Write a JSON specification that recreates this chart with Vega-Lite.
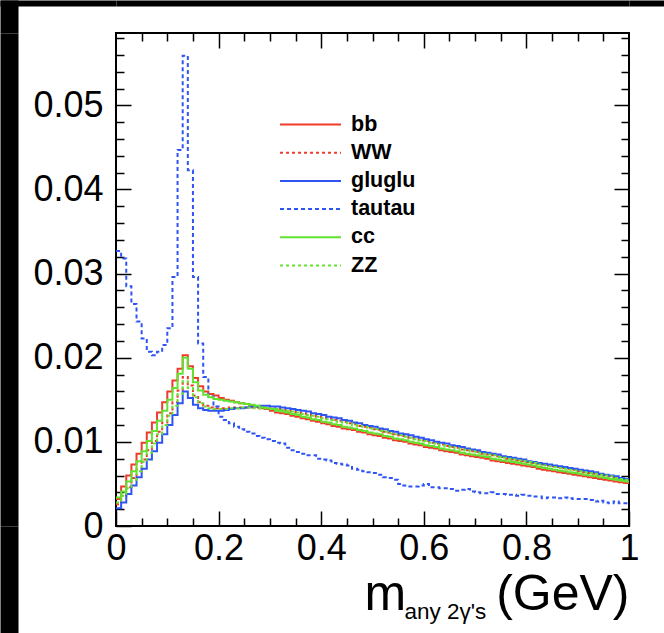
{
"$schema":"https://vega.github.io/schema/vega-lite/v6.json",
"width":513,"height":493,
"autosize":{"type":"none"},
"padding":{"left":116,"top":33,"right":35,"bottom":107},
"background":"white",
"config":{
"view":{"stroke":"black","strokeWidth":2},
"font":"Liberation Sans",
"axis":{"domain":false,"grid":false,"labels":false,"ticks":true,"tickColor":"black","tickWidth":1.5,"labelColor":"black","labelFont":"Liberation Sans","labelOverlap":false,"labelFlush":false,"titleColor":"black","titleFont":"Liberation Sans","titleFontWeight":"normal","titlePadding":0},
"legend":{"orient":"none","legendX":183,"legendY":80,"symbolType":"M-3,0H3","symbolSize":413,"symbolStrokeWidth":2,"labelFont":"Liberation Sans","labelFontSize":21.5,"labelFontWeight":"bold","labelColor":"black","labelOffset":29,"rowPadding":6.2,"padding":0}
},
"data":{"values":[
{"s":"bb","x":0.00,"y":0.0032},{"s":"bb","x":0.01,"y":0.0047},{"s":"bb","x":0.02,"y":0.0060},{"s":"bb","x":0.03,"y":0.0073},{"s":"bb","x":0.04,"y":0.0086},{"s":"bb","x":0.05,"y":0.0099},{"s":"bb","x":0.06,"y":0.0111},{"s":"bb","x":0.07,"y":0.0123},{"s":"bb","x":0.08,"y":0.0135},{"s":"bb","x":0.09,"y":0.0147},
{"s":"bb","x":0.10,"y":0.0160},{"s":"bb","x":0.11,"y":0.0173},{"s":"bb","x":0.12,"y":0.0187},{"s":"bb","x":0.13,"y":0.0203},{"s":"bb","x":0.14,"y":0.0190},{"s":"bb","x":0.15,"y":0.0176},{"s":"bb","x":0.16,"y":0.0166},{"s":"bb","x":0.17,"y":0.0160},{"s":"bb","x":0.18,"y":0.0157},{"s":"bb","x":0.19,"y":0.0155},
{"s":"bb","x":0.20,"y":0.0152},{"s":"bb","x":0.21,"y":0.0150},{"s":"bb","x":0.22,"y":0.0149},{"s":"bb","x":0.23,"y":0.0147},{"s":"bb","x":0.24,"y":0.0146},{"s":"bb","x":0.25,"y":0.0145},{"s":"bb","x":0.26,"y":0.0143},{"s":"bb","x":0.27,"y":0.0142},{"s":"bb","x":0.28,"y":0.0140},{"s":"bb","x":0.29,"y":0.0139},
{"s":"bb","x":0.30,"y":0.0137},{"s":"bb","x":0.31,"y":0.0135},{"s":"bb","x":0.32,"y":0.0134},{"s":"bb","x":0.33,"y":0.0133},{"s":"bb","x":0.34,"y":0.0131},{"s":"bb","x":0.35,"y":0.0130},{"s":"bb","x":0.36,"y":0.0128},{"s":"bb","x":0.37,"y":0.0127},{"s":"bb","x":0.38,"y":0.0125},{"s":"bb","x":0.39,"y":0.0124},
{"s":"bb","x":0.40,"y":0.0122},{"s":"bb","x":0.41,"y":0.0121},{"s":"bb","x":0.42,"y":0.0119},{"s":"bb","x":0.43,"y":0.0118},{"s":"bb","x":0.44,"y":0.0116},{"s":"bb","x":0.45,"y":0.0115},{"s":"bb","x":0.46,"y":0.0114},{"s":"bb","x":0.47,"y":0.0112},{"s":"bb","x":0.48,"y":0.0111},{"s":"bb","x":0.49,"y":0.0109},
{"s":"bb","x":0.50,"y":0.0108},{"s":"bb","x":0.51,"y":0.0107},{"s":"bb","x":0.52,"y":0.0105},{"s":"bb","x":0.53,"y":0.0104},{"s":"bb","x":0.54,"y":0.0102},{"s":"bb","x":0.55,"y":0.0101},{"s":"bb","x":0.56,"y":0.0100},{"s":"bb","x":0.57,"y":0.0098},{"s":"bb","x":0.58,"y":0.0097},{"s":"bb","x":0.59,"y":0.0096},
{"s":"bb","x":0.60,"y":0.0094},{"s":"bb","x":0.61,"y":0.0093},{"s":"bb","x":0.62,"y":0.0092},{"s":"bb","x":0.63,"y":0.0090},{"s":"bb","x":0.64,"y":0.0089},{"s":"bb","x":0.65,"y":0.0088},{"s":"bb","x":0.66,"y":0.0087},{"s":"bb","x":0.67,"y":0.0085},{"s":"bb","x":0.68,"y":0.0084},{"s":"bb","x":0.69,"y":0.0083},
{"s":"bb","x":0.70,"y":0.0082},{"s":"bb","x":0.71,"y":0.0081},{"s":"bb","x":0.72,"y":0.0080},{"s":"bb","x":0.73,"y":0.0078},{"s":"bb","x":0.74,"y":0.0077},{"s":"bb","x":0.75,"y":0.0076},{"s":"bb","x":0.76,"y":0.0075},{"s":"bb","x":0.77,"y":0.0074},{"s":"bb","x":0.78,"y":0.0073},{"s":"bb","x":0.79,"y":0.0072},
{"s":"bb","x":0.80,"y":0.0071},{"s":"bb","x":0.81,"y":0.0070},{"s":"bb","x":0.82,"y":0.0068},{"s":"bb","x":0.83,"y":0.0067},{"s":"bb","x":0.84,"y":0.0066},{"s":"bb","x":0.85,"y":0.0065},{"s":"bb","x":0.86,"y":0.0064},{"s":"bb","x":0.87,"y":0.0063},{"s":"bb","x":0.88,"y":0.0062},{"s":"bb","x":0.89,"y":0.0061},
{"s":"bb","x":0.90,"y":0.0060},{"s":"bb","x":0.91,"y":0.0059},{"s":"bb","x":0.92,"y":0.0058},{"s":"bb","x":0.93,"y":0.0057},{"s":"bb","x":0.94,"y":0.0056},{"s":"bb","x":0.95,"y":0.0055},{"s":"bb","x":0.96,"y":0.0054},{"s":"bb","x":0.97,"y":0.0053},{"s":"bb","x":0.98,"y":0.0052},{"s":"bb","x":0.99,"y":0.0051},{"s":"bb","x":1.00,"y":0.0051},

{"s":"WW","x":0.00,"y":0.0026},{"s":"WW","x":0.01,"y":0.0036},{"s":"WW","x":0.02,"y":0.0046},{"s":"WW","x":0.03,"y":0.0057},{"s":"WW","x":0.04,"y":0.0068},{"s":"WW","x":0.05,"y":0.0079},{"s":"WW","x":0.06,"y":0.0090},{"s":"WW","x":0.07,"y":0.0101},{"s":"WW","x":0.08,"y":0.0112},{"s":"WW","x":0.09,"y":0.0123},
{"s":"WW","x":0.10,"y":0.0134},{"s":"WW","x":0.11,"y":0.0147},{"s":"WW","x":0.12,"y":0.0161},{"s":"WW","x":0.13,"y":0.0177},{"s":"WW","x":0.14,"y":0.0167},{"s":"WW","x":0.15,"y":0.0155},{"s":"WW","x":0.16,"y":0.0147},{"s":"WW","x":0.17,"y":0.0143},{"s":"WW","x":0.18,"y":0.0141},{"s":"WW","x":0.19,"y":0.0140},
{"s":"WW","x":0.20,"y":0.0140},{"s":"WW","x":0.21,"y":0.0140},{"s":"WW","x":0.22,"y":0.0141},{"s":"WW","x":0.23,"y":0.0141},{"s":"WW","x":0.24,"y":0.0141},{"s":"WW","x":0.25,"y":0.0141},{"s":"WW","x":0.26,"y":0.0141},{"s":"WW","x":0.27,"y":0.0141},{"s":"WW","x":0.28,"y":0.0141},{"s":"WW","x":0.29,"y":0.0140},
{"s":"WW","x":0.30,"y":0.0140},{"s":"WW","x":0.31,"y":0.0139},{"s":"WW","x":0.32,"y":0.0138},{"s":"WW","x":0.33,"y":0.0137},{"s":"WW","x":0.34,"y":0.0136},{"s":"WW","x":0.35,"y":0.0135},{"s":"WW","x":0.36,"y":0.0134},{"s":"WW","x":0.37,"y":0.0133},{"s":"WW","x":0.38,"y":0.0131},{"s":"WW","x":0.39,"y":0.0130},
{"s":"WW","x":0.40,"y":0.0129},{"s":"WW","x":0.41,"y":0.0128},{"s":"WW","x":0.42,"y":0.0126},{"s":"WW","x":0.43,"y":0.0125},{"s":"WW","x":0.44,"y":0.0124},{"s":"WW","x":0.45,"y":0.0122},{"s":"WW","x":0.46,"y":0.0121},{"s":"WW","x":0.47,"y":0.0119},{"s":"WW","x":0.48,"y":0.0118},{"s":"WW","x":0.49,"y":0.0117},
{"s":"WW","x":0.50,"y":0.0115},{"s":"WW","x":0.51,"y":0.0114},{"s":"WW","x":0.52,"y":0.0112},{"s":"WW","x":0.53,"y":0.0111},{"s":"WW","x":0.54,"y":0.0109},{"s":"WW","x":0.55,"y":0.0108},{"s":"WW","x":0.56,"y":0.0107},{"s":"WW","x":0.57,"y":0.0105},{"s":"WW","x":0.58,"y":0.0104},{"s":"WW","x":0.59,"y":0.0102},
{"s":"WW","x":0.60,"y":0.0101},{"s":"WW","x":0.61,"y":0.0099},{"s":"WW","x":0.62,"y":0.0098},{"s":"WW","x":0.63,"y":0.0097},{"s":"WW","x":0.64,"y":0.0095},{"s":"WW","x":0.65,"y":0.0094},{"s":"WW","x":0.66,"y":0.0093},{"s":"WW","x":0.67,"y":0.0091},{"s":"WW","x":0.68,"y":0.0090},{"s":"WW","x":0.69,"y":0.0089},
{"s":"WW","x":0.70,"y":0.0088},{"s":"WW","x":0.71,"y":0.0086},{"s":"WW","x":0.72,"y":0.0085},{"s":"WW","x":0.73,"y":0.0084},{"s":"WW","x":0.74,"y":0.0083},{"s":"WW","x":0.75,"y":0.0082},{"s":"WW","x":0.76,"y":0.0080},{"s":"WW","x":0.77,"y":0.0079},{"s":"WW","x":0.78,"y":0.0078},{"s":"WW","x":0.79,"y":0.0077},
{"s":"WW","x":0.80,"y":0.0076},{"s":"WW","x":0.81,"y":0.0075},{"s":"WW","x":0.82,"y":0.0074},{"s":"WW","x":0.83,"y":0.0073},{"s":"WW","x":0.84,"y":0.0072},{"s":"WW","x":0.85,"y":0.0071},{"s":"WW","x":0.86,"y":0.0070},{"s":"WW","x":0.87,"y":0.0069},{"s":"WW","x":0.88,"y":0.0068},{"s":"WW","x":0.89,"y":0.0067},
{"s":"WW","x":0.90,"y":0.0065},{"s":"WW","x":0.91,"y":0.0064},{"s":"WW","x":0.92,"y":0.0063},{"s":"WW","x":0.93,"y":0.0062},{"s":"WW","x":0.94,"y":0.0061},{"s":"WW","x":0.95,"y":0.0060},{"s":"WW","x":0.96,"y":0.0059},{"s":"WW","x":0.97,"y":0.0057},{"s":"WW","x":0.98,"y":0.0056},{"s":"WW","x":0.99,"y":0.0055},{"s":"WW","x":1.00,"y":0.0055},

{"s":"gluglu","x":0.00,"y":0.0021},{"s":"gluglu","x":0.01,"y":0.0028},{"s":"gluglu","x":0.02,"y":0.0038},{"s":"gluglu","x":0.03,"y":0.0048},{"s":"gluglu","x":0.04,"y":0.0058},{"s":"gluglu","x":0.05,"y":0.0068},{"s":"gluglu","x":0.06,"y":0.0079},{"s":"gluglu","x":0.07,"y":0.0089},{"s":"gluglu","x":0.08,"y":0.0099},{"s":"gluglu","x":0.09,"y":0.0109},
{"s":"gluglu","x":0.10,"y":0.0120},{"s":"gluglu","x":0.11,"y":0.0132},{"s":"gluglu","x":0.12,"y":0.0146},{"s":"gluglu","x":0.13,"y":0.0160},{"s":"gluglu","x":0.14,"y":0.0152},{"s":"gluglu","x":0.15,"y":0.0144},{"s":"gluglu","x":0.16,"y":0.0140},{"s":"gluglu","x":0.17,"y":0.0138},{"s":"gluglu","x":0.18,"y":0.0137},{"s":"gluglu","x":0.19,"y":0.0137},
{"s":"gluglu","x":0.20,"y":0.0137},{"s":"gluglu","x":0.21,"y":0.0138},{"s":"gluglu","x":0.22,"y":0.0139},{"s":"gluglu","x":0.23,"y":0.0140},{"s":"gluglu","x":0.24,"y":0.0140},{"s":"gluglu","x":0.25,"y":0.0141},{"s":"gluglu","x":0.26,"y":0.0142},{"s":"gluglu","x":0.27,"y":0.0142},{"s":"gluglu","x":0.28,"y":0.0143},{"s":"gluglu","x":0.29,"y":0.0143},
{"s":"gluglu","x":0.30,"y":0.0142},{"s":"gluglu","x":0.31,"y":0.0142},{"s":"gluglu","x":0.32,"y":0.0141},{"s":"gluglu","x":0.33,"y":0.0140},{"s":"gluglu","x":0.34,"y":0.0139},{"s":"gluglu","x":0.35,"y":0.0138},{"s":"gluglu","x":0.36,"y":0.0137},{"s":"gluglu","x":0.37,"y":0.0136},{"s":"gluglu","x":0.38,"y":0.0134},{"s":"gluglu","x":0.39,"y":0.0133},
{"s":"gluglu","x":0.40,"y":0.0132},{"s":"gluglu","x":0.41,"y":0.0130},{"s":"gluglu","x":0.42,"y":0.0129},{"s":"gluglu","x":0.43,"y":0.0128},{"s":"gluglu","x":0.44,"y":0.0126},{"s":"gluglu","x":0.45,"y":0.0125},{"s":"gluglu","x":0.46,"y":0.0123},{"s":"gluglu","x":0.47,"y":0.0122},{"s":"gluglu","x":0.48,"y":0.0120},{"s":"gluglu","x":0.49,"y":0.0119},
{"s":"gluglu","x":0.50,"y":0.0118},{"s":"gluglu","x":0.51,"y":0.0116},{"s":"gluglu","x":0.52,"y":0.0115},{"s":"gluglu","x":0.53,"y":0.0113},{"s":"gluglu","x":0.54,"y":0.0112},{"s":"gluglu","x":0.55,"y":0.0110},{"s":"gluglu","x":0.56,"y":0.0109},{"s":"gluglu","x":0.57,"y":0.0108},{"s":"gluglu","x":0.58,"y":0.0106},{"s":"gluglu","x":0.59,"y":0.0105},
{"s":"gluglu","x":0.60,"y":0.0103},{"s":"gluglu","x":0.61,"y":0.0102},{"s":"gluglu","x":0.62,"y":0.0100},{"s":"gluglu","x":0.63,"y":0.0099},{"s":"gluglu","x":0.64,"y":0.0098},{"s":"gluglu","x":0.65,"y":0.0096},{"s":"gluglu","x":0.66,"y":0.0095},{"s":"gluglu","x":0.67,"y":0.0094},{"s":"gluglu","x":0.68,"y":0.0092},{"s":"gluglu","x":0.69,"y":0.0091},
{"s":"gluglu","x":0.70,"y":0.0090},{"s":"gluglu","x":0.71,"y":0.0088},{"s":"gluglu","x":0.72,"y":0.0087},{"s":"gluglu","x":0.73,"y":0.0086},{"s":"gluglu","x":0.74,"y":0.0085},{"s":"gluglu","x":0.75,"y":0.0083},{"s":"gluglu","x":0.76,"y":0.0082},{"s":"gluglu","x":0.77,"y":0.0081},{"s":"gluglu","x":0.78,"y":0.0080},{"s":"gluglu","x":0.79,"y":0.0079},
{"s":"gluglu","x":0.80,"y":0.0077},{"s":"gluglu","x":0.81,"y":0.0076},{"s":"gluglu","x":0.82,"y":0.0075},{"s":"gluglu","x":0.83,"y":0.0074},{"s":"gluglu","x":0.84,"y":0.0073},{"s":"gluglu","x":0.85,"y":0.0072},{"s":"gluglu","x":0.86,"y":0.0071},{"s":"gluglu","x":0.87,"y":0.0070},{"s":"gluglu","x":0.88,"y":0.0069},{"s":"gluglu","x":0.89,"y":0.0068},
{"s":"gluglu","x":0.90,"y":0.0067},{"s":"gluglu","x":0.91,"y":0.0066},{"s":"gluglu","x":0.92,"y":0.0065},{"s":"gluglu","x":0.93,"y":0.0064},{"s":"gluglu","x":0.94,"y":0.0062},{"s":"gluglu","x":0.95,"y":0.0061},{"s":"gluglu","x":0.96,"y":0.0060},{"s":"gluglu","x":0.97,"y":0.0059},{"s":"gluglu","x":0.98,"y":0.0057},{"s":"gluglu","x":0.99,"y":0.0056},{"s":"gluglu","x":1.00,"y":0.0056},

{"s":"tautau","x":0.00,"y":0.0327},{"s":"tautau","x":0.01,"y":0.0318},{"s":"tautau","x":0.02,"y":0.0285},{"s":"tautau","x":0.03,"y":0.0264},{"s":"tautau","x":0.04,"y":0.0243},{"s":"tautau","x":0.05,"y":0.0223},{"s":"tautau","x":0.06,"y":0.0207},{"s":"tautau","x":0.07,"y":0.0203},{"s":"tautau","x":0.08,"y":0.0207},{"s":"tautau","x":0.09,"y":0.0215},
{"s":"tautau","x":0.10,"y":0.0235},{"s":"tautau","x":0.11,"y":0.0296},{"s":"tautau","x":0.12,"y":0.0447},{"s":"tautau","x":0.13,"y":0.0559},{"s":"tautau","x":0.14,"y":0.0423},{"s":"tautau","x":0.15,"y":0.0296},{"s":"tautau","x":0.16,"y":0.0217},{"s":"tautau","x":0.17,"y":0.0177},{"s":"tautau","x":0.18,"y":0.0154},{"s":"tautau","x":0.19,"y":0.0142},
{"s":"tautau","x":0.20,"y":0.0130},{"s":"tautau","x":0.21,"y":0.0126},{"s":"tautau","x":0.22,"y":0.0122},{"s":"tautau","x":0.23,"y":0.0118},{"s":"tautau","x":0.24,"y":0.0115},{"s":"tautau","x":0.25,"y":0.0112},{"s":"tautau","x":0.26,"y":0.0110},{"s":"tautau","x":0.27,"y":0.0107},{"s":"tautau","x":0.28,"y":0.0105},{"s":"tautau","x":0.29,"y":0.0103},
{"s":"tautau","x":0.30,"y":0.0101},{"s":"tautau","x":0.31,"y":0.0099},{"s":"tautau","x":0.32,"y":0.0098},{"s":"tautau","x":0.33,"y":0.0093},{"s":"tautau","x":0.34,"y":0.0090},{"s":"tautau","x":0.35,"y":0.0088},{"s":"tautau","x":0.36,"y":0.0086},{"s":"tautau","x":0.37,"y":0.0084},{"s":"tautau","x":0.38,"y":0.0084},{"s":"tautau","x":0.39,"y":0.0080},
{"s":"tautau","x":0.40,"y":0.0079},{"s":"tautau","x":0.41,"y":0.0078},{"s":"tautau","x":0.42,"y":0.0075},{"s":"tautau","x":0.43,"y":0.0074},{"s":"tautau","x":0.44,"y":0.0073},{"s":"tautau","x":0.45,"y":0.0072},{"s":"tautau","x":0.46,"y":0.0068},{"s":"tautau","x":0.47,"y":0.0067},{"s":"tautau","x":0.48,"y":0.0065},{"s":"tautau","x":0.49,"y":0.0064},
{"s":"tautau","x":0.50,"y":0.0063},{"s":"tautau","x":0.51,"y":0.0061},{"s":"tautau","x":0.52,"y":0.0058},{"s":"tautau","x":0.53,"y":0.0057},{"s":"tautau","x":0.54,"y":0.0055},{"s":"tautau","x":0.55,"y":0.0050},{"s":"tautau","x":0.56,"y":0.0048},{"s":"tautau","x":0.57,"y":0.0047},{"s":"tautau","x":0.58,"y":0.0047},{"s":"tautau","x":0.59,"y":0.0048},
{"s":"tautau","x":0.60,"y":0.0050},{"s":"tautau","x":0.61,"y":0.0046},{"s":"tautau","x":0.62,"y":0.0046},{"s":"tautau","x":0.63,"y":0.0045},{"s":"tautau","x":0.64,"y":0.0045},{"s":"tautau","x":0.65,"y":0.0044},{"s":"tautau","x":0.66,"y":0.0042},{"s":"tautau","x":0.67,"y":0.0043},{"s":"tautau","x":0.68,"y":0.0044},{"s":"tautau","x":0.69,"y":0.0041},
{"s":"tautau","x":0.70,"y":0.0040},{"s":"tautau","x":0.71,"y":0.0039},{"s":"tautau","x":0.72,"y":0.0039},{"s":"tautau","x":0.73,"y":0.0040},{"s":"tautau","x":0.74,"y":0.0038},{"s":"tautau","x":0.75,"y":0.0038},{"s":"tautau","x":0.76,"y":0.0037},{"s":"tautau","x":0.77,"y":0.0037},{"s":"tautau","x":0.78,"y":0.0036},{"s":"tautau","x":0.79,"y":0.0037},
{"s":"tautau","x":0.80,"y":0.0036},{"s":"tautau","x":0.81,"y":0.0035},{"s":"tautau","x":0.82,"y":0.0035},{"s":"tautau","x":0.83,"y":0.0033},{"s":"tautau","x":0.84,"y":0.0034},{"s":"tautau","x":0.85,"y":0.0034},{"s":"tautau","x":0.86,"y":0.0033},{"s":"tautau","x":0.87,"y":0.0034},{"s":"tautau","x":0.88,"y":0.0033},{"s":"tautau","x":0.89,"y":0.0032},
{"s":"tautau","x":0.90,"y":0.0032},{"s":"tautau","x":0.91,"y":0.0032},{"s":"tautau","x":0.92,"y":0.0031},{"s":"tautau","x":0.93,"y":0.0029},{"s":"tautau","x":0.94,"y":0.0030},{"s":"tautau","x":0.95,"y":0.0028},{"s":"tautau","x":0.96,"y":0.0027},{"s":"tautau","x":0.97,"y":0.0029},{"s":"tautau","x":0.98,"y":0.0027},{"s":"tautau","x":0.99,"y":0.0027},{"s":"tautau","x":1.00,"y":0.0027},

{"s":"cc","x":0.00,"y":0.0034},{"s":"cc","x":0.01,"y":0.0041},{"s":"cc","x":0.02,"y":0.0053},{"s":"cc","x":0.03,"y":0.0065},{"s":"cc","x":0.04,"y":0.0077},{"s":"cc","x":0.05,"y":0.0089},{"s":"cc","x":0.06,"y":0.0101},{"s":"cc","x":0.07,"y":0.0113},{"s":"cc","x":0.08,"y":0.0125},{"s":"cc","x":0.09,"y":0.0137},
{"s":"cc","x":0.10,"y":0.0150},{"s":"cc","x":0.11,"y":0.0164},{"s":"cc","x":0.12,"y":0.0181},{"s":"cc","x":0.13,"y":0.0200},{"s":"cc","x":0.14,"y":0.0187},{"s":"cc","x":0.15,"y":0.0171},{"s":"cc","x":0.16,"y":0.0161},{"s":"cc","x":0.17,"y":0.0156},{"s":"cc","x":0.18,"y":0.0153},{"s":"cc","x":0.19,"y":0.0151},
{"s":"cc","x":0.20,"y":0.0150},{"s":"cc","x":0.21,"y":0.0149},{"s":"cc","x":0.22,"y":0.0148},{"s":"cc","x":0.23,"y":0.0147},{"s":"cc","x":0.24,"y":0.0146},{"s":"cc","x":0.25,"y":0.0145},{"s":"cc","x":0.26,"y":0.0144},{"s":"cc","x":0.27,"y":0.0143},{"s":"cc","x":0.28,"y":0.0141},{"s":"cc","x":0.29,"y":0.0140},
{"s":"cc","x":0.30,"y":0.0139},{"s":"cc","x":0.31,"y":0.0137},{"s":"cc","x":0.32,"y":0.0136},{"s":"cc","x":0.33,"y":0.0135},{"s":"cc","x":0.34,"y":0.0133},{"s":"cc","x":0.35,"y":0.0132},{"s":"cc","x":0.36,"y":0.0130},{"s":"cc","x":0.37,"y":0.0129},{"s":"cc","x":0.38,"y":0.0127},{"s":"cc","x":0.39,"y":0.0126},
{"s":"cc","x":0.40,"y":0.0124},{"s":"cc","x":0.41,"y":0.0123},{"s":"cc","x":0.42,"y":0.0121},{"s":"cc","x":0.43,"y":0.0120},{"s":"cc","x":0.44,"y":0.0118},{"s":"cc","x":0.45,"y":0.0117},{"s":"cc","x":0.46,"y":0.0116},{"s":"cc","x":0.47,"y":0.0114},{"s":"cc","x":0.48,"y":0.0113},{"s":"cc","x":0.49,"y":0.0111},
{"s":"cc","x":0.50,"y":0.0110},{"s":"cc","x":0.51,"y":0.0109},{"s":"cc","x":0.52,"y":0.0107},{"s":"cc","x":0.53,"y":0.0106},{"s":"cc","x":0.54,"y":0.0104},{"s":"cc","x":0.55,"y":0.0103},{"s":"cc","x":0.56,"y":0.0102},{"s":"cc","x":0.57,"y":0.0100},{"s":"cc","x":0.58,"y":0.0099},{"s":"cc","x":0.59,"y":0.0098},
{"s":"cc","x":0.60,"y":0.0096},{"s":"cc","x":0.61,"y":0.0095},{"s":"cc","x":0.62,"y":0.0094},{"s":"cc","x":0.63,"y":0.0092},{"s":"cc","x":0.64,"y":0.0091},{"s":"cc","x":0.65,"y":0.0090},{"s":"cc","x":0.66,"y":0.0089},{"s":"cc","x":0.67,"y":0.0087},{"s":"cc","x":0.68,"y":0.0086},{"s":"cc","x":0.69,"y":0.0085},
{"s":"cc","x":0.70,"y":0.0084},{"s":"cc","x":0.71,"y":0.0083},{"s":"cc","x":0.72,"y":0.0082},{"s":"cc","x":0.73,"y":0.0080},{"s":"cc","x":0.74,"y":0.0079},{"s":"cc","x":0.75,"y":0.0078},{"s":"cc","x":0.76,"y":0.0077},{"s":"cc","x":0.77,"y":0.0076},{"s":"cc","x":0.78,"y":0.0075},{"s":"cc","x":0.79,"y":0.0074},
{"s":"cc","x":0.80,"y":0.0073},{"s":"cc","x":0.81,"y":0.0072},{"s":"cc","x":0.82,"y":0.0070},{"s":"cc","x":0.83,"y":0.0069},{"s":"cc","x":0.84,"y":0.0068},{"s":"cc","x":0.85,"y":0.0067},{"s":"cc","x":0.86,"y":0.0066},{"s":"cc","x":0.87,"y":0.0065},{"s":"cc","x":0.88,"y":0.0064},{"s":"cc","x":0.89,"y":0.0063},
{"s":"cc","x":0.90,"y":0.0062},{"s":"cc","x":0.91,"y":0.0061},{"s":"cc","x":0.92,"y":0.0060},{"s":"cc","x":0.93,"y":0.0059},{"s":"cc","x":0.94,"y":0.0058},{"s":"cc","x":0.95,"y":0.0057},{"s":"cc","x":0.96,"y":0.0056},{"s":"cc","x":0.97,"y":0.0055},{"s":"cc","x":0.98,"y":0.0054},{"s":"cc","x":0.99,"y":0.0053},{"s":"cc","x":1.00,"y":0.0053},

{"s":"ZZ","x":0.00,"y":0.0028},{"s":"ZZ","x":0.01,"y":0.0036},{"s":"ZZ","x":0.02,"y":0.0045},{"s":"ZZ","x":0.03,"y":0.0055},{"s":"ZZ","x":0.04,"y":0.0065},{"s":"ZZ","x":0.05,"y":0.0076},{"s":"ZZ","x":0.06,"y":0.0087},{"s":"ZZ","x":0.07,"y":0.0098},{"s":"ZZ","x":0.08,"y":0.0109},{"s":"ZZ","x":0.09,"y":0.0120},
{"s":"ZZ","x":0.10,"y":0.0131},{"s":"ZZ","x":0.11,"y":0.0143},{"s":"ZZ","x":0.12,"y":0.0157},{"s":"ZZ","x":0.13,"y":0.0172},{"s":"ZZ","x":0.14,"y":0.0164},{"s":"ZZ","x":0.15,"y":0.0153},{"s":"ZZ","x":0.16,"y":0.0146},{"s":"ZZ","x":0.17,"y":0.0142},{"s":"ZZ","x":0.18,"y":0.0140},{"s":"ZZ","x":0.19,"y":0.0139},
{"s":"ZZ","x":0.20,"y":0.0139},{"s":"ZZ","x":0.21,"y":0.0139},{"s":"ZZ","x":0.22,"y":0.0140},{"s":"ZZ","x":0.23,"y":0.0140},{"s":"ZZ","x":0.24,"y":0.0141},{"s":"ZZ","x":0.25,"y":0.0141},{"s":"ZZ","x":0.26,"y":0.0141},{"s":"ZZ","x":0.27,"y":0.0140},{"s":"ZZ","x":0.28,"y":0.0140},{"s":"ZZ","x":0.29,"y":0.0140},
{"s":"ZZ","x":0.30,"y":0.0139},{"s":"ZZ","x":0.31,"y":0.0139},{"s":"ZZ","x":0.32,"y":0.0138},{"s":"ZZ","x":0.33,"y":0.0137},{"s":"ZZ","x":0.34,"y":0.0136},{"s":"ZZ","x":0.35,"y":0.0135},{"s":"ZZ","x":0.36,"y":0.0133},{"s":"ZZ","x":0.37,"y":0.0132},{"s":"ZZ","x":0.38,"y":0.0131},{"s":"ZZ","x":0.39,"y":0.0130},
{"s":"ZZ","x":0.40,"y":0.0128},{"s":"ZZ","x":0.41,"y":0.0127},{"s":"ZZ","x":0.42,"y":0.0126},{"s":"ZZ","x":0.43,"y":0.0124},{"s":"ZZ","x":0.44,"y":0.0123},{"s":"ZZ","x":0.45,"y":0.0122},{"s":"ZZ","x":0.46,"y":0.0120},{"s":"ZZ","x":0.47,"y":0.0119},{"s":"ZZ","x":0.48,"y":0.0118},{"s":"ZZ","x":0.49,"y":0.0116},
{"s":"ZZ","x":0.50,"y":0.0115},{"s":"ZZ","x":0.51,"y":0.0113},{"s":"ZZ","x":0.52,"y":0.0112},{"s":"ZZ","x":0.53,"y":0.0110},{"s":"ZZ","x":0.54,"y":0.0109},{"s":"ZZ","x":0.55,"y":0.0108},{"s":"ZZ","x":0.56,"y":0.0106},{"s":"ZZ","x":0.57,"y":0.0105},{"s":"ZZ","x":0.58,"y":0.0103},{"s":"ZZ","x":0.59,"y":0.0102},
{"s":"ZZ","x":0.60,"y":0.0101},{"s":"ZZ","x":0.61,"y":0.0099},{"s":"ZZ","x":0.62,"y":0.0098},{"s":"ZZ","x":0.63,"y":0.0096},{"s":"ZZ","x":0.64,"y":0.0095},{"s":"ZZ","x":0.65,"y":0.0094},{"s":"ZZ","x":0.66,"y":0.0092},{"s":"ZZ","x":0.67,"y":0.0091},{"s":"ZZ","x":0.68,"y":0.0090},{"s":"ZZ","x":0.69,"y":0.0089},
{"s":"ZZ","x":0.70,"y":0.0087},{"s":"ZZ","x":0.71,"y":0.0086},{"s":"ZZ","x":0.72,"y":0.0085},{"s":"ZZ","x":0.73,"y":0.0084},{"s":"ZZ","x":0.74,"y":0.0082},{"s":"ZZ","x":0.75,"y":0.0081},{"s":"ZZ","x":0.76,"y":0.0080},{"s":"ZZ","x":0.77,"y":0.0079},{"s":"ZZ","x":0.78,"y":0.0078},{"s":"ZZ","x":0.79,"y":0.0077},
{"s":"ZZ","x":0.80,"y":0.0076},{"s":"ZZ","x":0.81,"y":0.0075},{"s":"ZZ","x":0.82,"y":0.0073},{"s":"ZZ","x":0.83,"y":0.0072},{"s":"ZZ","x":0.84,"y":0.0071},{"s":"ZZ","x":0.85,"y":0.0070},{"s":"ZZ","x":0.86,"y":0.0069},{"s":"ZZ","x":0.87,"y":0.0068},{"s":"ZZ","x":0.88,"y":0.0067},{"s":"ZZ","x":0.89,"y":0.0066},
{"s":"ZZ","x":0.90,"y":0.0065},{"s":"ZZ","x":0.91,"y":0.0064},{"s":"ZZ","x":0.92,"y":0.0063},{"s":"ZZ","x":0.93,"y":0.0062},{"s":"ZZ","x":0.94,"y":0.0061},{"s":"ZZ","x":0.95,"y":0.0060},{"s":"ZZ","x":0.96,"y":0.0059},{"s":"ZZ","x":0.97,"y":0.0057},{"s":"ZZ","x":0.98,"y":0.0056},{"s":"ZZ","x":0.99,"y":0.0055},{"s":"ZZ","x":1.00,"y":0.0055}
]},
"encoding":{
"color":{"field":"s","type":"nominal","scale":{"domain":["bb","WW","gluglu","tautau","cc","ZZ"],"range":["#ef3b2c","#ef3b2c","#2f54f4","#2f54f4","#62e22f","#62e22f"]},"legend":{"title":null}},
"strokeDash":{"field":"s","type":"nominal","scale":{"domain":["bb","WW","gluglu","tautau","cc","ZZ"],"range":[[1,0],[3,3],[1,0],[4,3],[1,0],[3,3]]},"legend":{"title":null}}
},
"layer":[
{"transform":[{"filter":"datum.s === 'bb'"}],
 "mark":{"type":"line","interpolate":"step-after","strokeWidth":2},
 "encoding":{
  "x":{"field":"x","type":"quantitative","scale":{"domain":[0,1],"nice":false,"zero":false},
   "axis":{"orient":"bottom","values":[0,0.2,0.4,0.6,0.8,1],"format":"~g","tickSize":-15,"labels":true,"labelFontSize":36,"labelPadding":20,"title":"(GeV)","titleX":513,"titleY":83,"titleAlign":"right","titleAnchor":"end","titleBaseline":"alphabetic","titleFontSize":50}},
  "y":{"field":"y","type":"quantitative","scale":{"domain":[0,0.0586],"nice":false,"zero":false},
   "axis":{"orient":"left","values":[0,0.01,0.02,0.03,0.04,0.05],"format":"~g","tickSize":-15,"labels":true,"labelFontSize":36,"labelPadding":28,"title":null}}
 }},
{"transform":[{"filter":"datum.s === 'WW'"}],
 "mark":{"type":"line","interpolate":"step-after","strokeWidth":2},
 "encoding":{
  "x":{"field":"x","type":"quantitative","scale":{"domain":[0,1],"nice":false,"zero":false},
   "axis":{"orient":"bottom","values":[0.05,0.1,0.15,0.25,0.3,0.35,0.45,0.5,0.55,0.65,0.7,0.75,0.85,0.9,0.95],"tickSize":-8,"title":"m","titleX":248,"titleY":83,"titleAlign":"left","titleAnchor":"start","titleBaseline":"alphabetic","titleFontSize":50}},
  "y":{"field":"y","type":"quantitative","scale":{"domain":[0,0.0586],"nice":false,"zero":false},
   "axis":{"orient":"left","values":[0.002,0.004,0.006,0.008,0.012,0.014,0.016,0.018,0.022,0.024,0.026,0.028,0.032,0.034,0.036,0.038,0.042,0.044,0.046,0.048,0.052,0.054,0.056,0.058],"tickSize":-8,"title":null}}
 }},
{"transform":[{"filter":"datum.s === 'gluglu'"}],
 "mark":{"type":"line","interpolate":"step-after","strokeWidth":2},
 "encoding":{
  "x":{"field":"x","type":"quantitative","scale":{"domain":[0,1],"nice":false,"zero":false},
   "axis":{"orient":"top","values":[0.2,0.4,0.6,0.8],"tickSize":-15,"title":null}},
  "y":{"field":"y","type":"quantitative","scale":{"domain":[0,0.0586],"nice":false,"zero":false},
   "axis":{"orient":"right","values":[0.01,0.02,0.03,0.04,0.05],"tickSize":-15,"title":null}}
 }},
{"transform":[{"filter":"datum.s === 'tautau'"}],
 "mark":{"type":"line","interpolate":"step-after","strokeWidth":2},
 "encoding":{
  "x":{"field":"x","type":"quantitative","scale":{"domain":[0,1],"nice":false,"zero":false},
   "axis":{"orient":"top","values":[0.05,0.1,0.15,0.25,0.3,0.35,0.45,0.5,0.55,0.65,0.7,0.75,0.85,0.9,0.95],"tickSize":-8,"title":null}},
  "y":{"field":"y","type":"quantitative","scale":{"domain":[0,0.0586],"nice":false,"zero":false},
   "axis":{"orient":"right","values":[0.002,0.004,0.006,0.008,0.012,0.014,0.016,0.018,0.022,0.024,0.026,0.028,0.032,0.034,0.036,0.038,0.042,0.044,0.046,0.048,0.052,0.054,0.056,0.058],"tickSize":-8,"title":null}}
 }},
{"transform":[{"filter":"datum.s === 'cc'"}],
 "mark":{"type":"line","interpolate":"step-after","strokeWidth":2},
 "encoding":{
  "x":{"field":"x","type":"quantitative","scale":{"domain":[0,1],"nice":false,"zero":false},
   "axis":{"orient":"top","values":[0],"tickOffset":-107,"tickWidth":18,"tickSize":33,"grid":true,"gridColor":"black","gridWidth":18,"gridOpacity":1,"title":null}},
  "y":{"field":"y","type":"quantitative","scale":{"domain":[0,0.0586],"nice":false,"zero":false},
   "axis":{"orient":"left","values":[0.0586],"tickOffset":-30,"tickWidth":6,"tickSize":116,"grid":true,"gridColor":"black","gridWidth":6,"gridOpacity":1,"title":null}}
 }},
{"transform":[{"filter":"datum.s === 'ZZ'"}],
 "mark":{"type":"line","interpolate":"step-after","strokeWidth":2},
 "encoding":{
  "x":{"field":"x","type":"quantitative","scale":{"domain":[0,1],"nice":false,"zero":false},
   "axis":{"orient":"bottom","values":[0],"tickOffset":-107,"tickWidth":18,"tickSize":107,"title":"any 2γ's","titleX":288,"titleY":92,"titleAlign":"left","titleAnchor":"start","titleBaseline":"alphabetic","titleFontSize":22.5}},
  "y":{"field":"y","type":"quantitative","scale":{"domain":[0,0.0586],"nice":false,"zero":false},
   "axis":{"orient":"right","values":[0.0586],"tickOffset":-30,"tickWidth":6,"tickSize":35,"title":null}}
 }}
],
"resolve":{"axis":{"x":"independent","y":"independent"}}
}
